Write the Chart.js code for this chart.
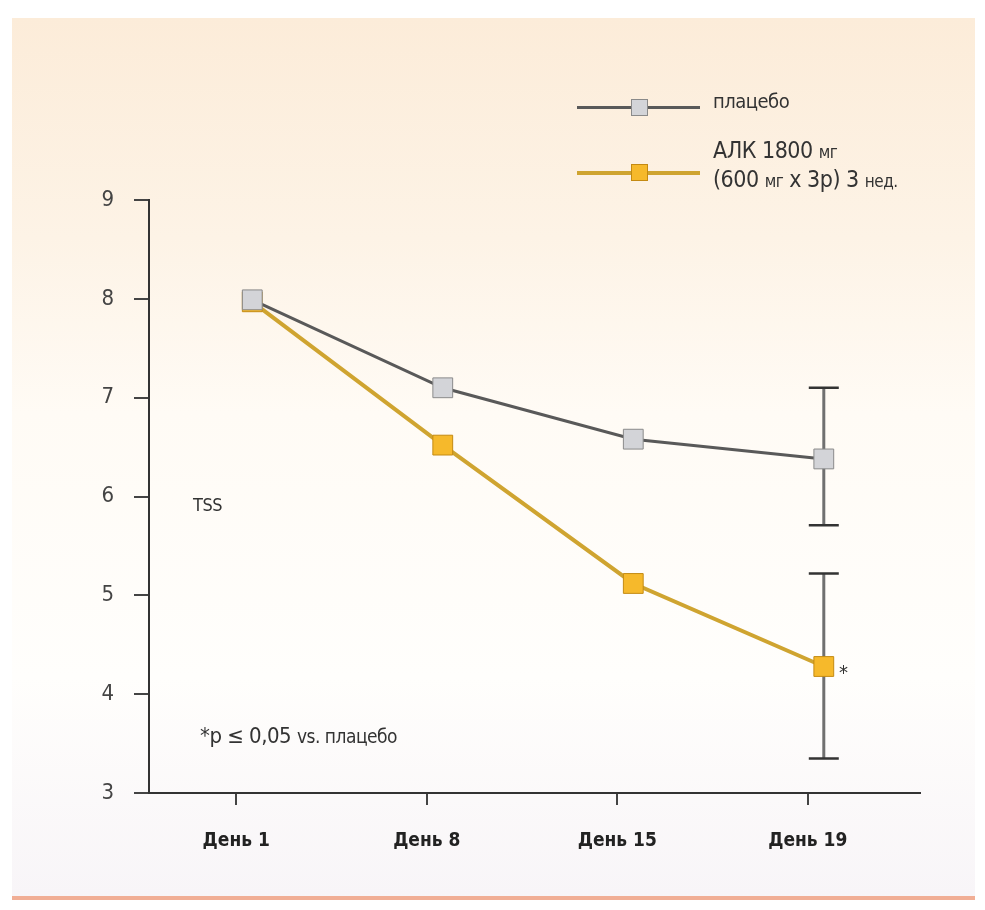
<!DOCTYPE html>
<html>
<head>
<meta charset="utf-8">
<script src="https://cdn.jsdelivr.net/npm/chart.js@4"></script>
<style>
    body { margin: 0; background: #fff; width: 985px; height: 910px; overflow: hidden; position: relative; font-family: 'DejaVu Sans Condensed', 'Liberation Sans Narrow', sans-serif; color: #333; }
    #panel { position: absolute; left: 12px; top: 18px; width: 963px; height: 878px;
        background: linear-gradient(#fcecd9 0%, #fdf3e6 25%, #fffbf5 45%, #fffefc 75%, #f8f5f8 100%);
        border-bottom: 4px solid #f1ae95; }
    #wrap { position: absolute; left: 0; top: 0; width: 985px; height: 910px; }
    .note { position: absolute; white-space: nowrap; line-height: 1; letter-spacing: -0.5px; }
    .leg { position: absolute; left: 577px; width: 123px; height: 3px; }
    .leg span { position: absolute; left: 54px; top: -7px; width: 17px; height: 17px; box-sizing: border-box; }
    small { font-size: 17px; }
</style>
</head>
<body>
<div id="panel"></div>
<div id="wrap"><canvas id="chart" width="985" height="910"></canvas></div>

<div class="leg" style="top:106px;background:#595959"><span style="background:#d3d4d8;border:1px solid #8a8a8a"></span></div>
<div class="leg" style="top:171px;height:4px;background:#cfa430"><span style="background:#f6b92b;border:1px solid #c48a12;top:-7px"></span></div>
<div class="note" style="left:713px;top:91px;font-size:20px">плацебо</div>
<div class="note" style="left:713px;top:139px;font-size:23px">АЛК 1800 <small>мг</small></div>
<div class="note" style="left:713px;top:168px;font-size:23px">(600 <small>мг</small> x 3р) 3 <small>нед.</small></div>
<div class="note" style="left:193px;top:496px;font-size:18px">TSS</div>
<div class="note" style="left:200px;top:725px;font-size:22px">*p ≤ 0,05 <span style="font-size:19px">vs. плацебо</span></div>
<div class="note" style="left:839px;top:662px;font-size:20px">*</div>

<script>
// Categories and values
const days = ['День 1', 'День 8', 'День 15', 'День 19'];
const placebo = [7.99, 7.1, 6.58, 6.38];
const alk = [7.97, 6.52, 5.12, 4.28];
// error bars [low, high], only on the last day
const placeboErr = [null, null, null, [5.71, 7.1]];
const alkErr = [null, null, null, [3.35, 5.22]];
const yTicks = [3, 4, 5, 6, 7, 8, 9];

const FONT = "'DejaVu Sans Condensed', 'Liberation Sans Narrow', sans-serif";

const errorBars = {
    id: 'errorBars',
    beforeDatasetsDraw(chart) {
        const ctx = chart.ctx;
        const y = chart.scales.y;
        [placeboErr, alkErr].forEach((errs, di) => {
            const meta = chart.getDatasetMeta(di);
            errs.forEach((e, i) => {
                if (!e) return;
                const px = meta.data[i].x;
                const lo = y.getPixelForValue(e[0]);
                const hi = y.getPixelForValue(e[1]);
                ctx.save();
                ctx.strokeStyle = '#707070';
                ctx.lineWidth = 3;
                ctx.beginPath();
                ctx.moveTo(px, lo); ctx.lineTo(px, hi);
                ctx.stroke();
                ctx.strokeStyle = '#333';
                ctx.lineWidth = 2.5;
                ctx.beginPath();
                ctx.moveTo(px - 15, lo); ctx.lineTo(px + 15, lo);
                ctx.moveTo(px - 15, hi); ctx.lineTo(px + 15, hi);
                ctx.stroke();
                ctx.restore();
            });
        });
    }
};

const xy = arr => arr.map((v, i) => ({ x: i, y: v }));

new Chart(document.getElementById('chart'), {
    type: 'line',
    data: {
        datasets: [
            {
                label: 'плацебо',
                data: xy(placebo),
                borderColor: '#595959',
                borderWidth: 3,
                pointStyle: 'rect',
                pointRadius: 14,
                pointBackgroundColor: '#d3d4d8',
                pointBorderColor: '#8a8a8a',
                pointBorderWidth: 1,
                xAxisID: 'x'
            },
            {
                label: 'АЛК 1800 мг (600 мг x 3р) 3 нед.',
                data: xy(alk),
                borderColor: '#cfa430',
                borderWidth: 4,
                pointStyle: 'rect',
                pointRadius: 14,
                pointBackgroundColor: '#f6b92b',
                pointBorderColor: '#c48a12',
                pointBorderWidth: 1,
                xAxisID: 'x'
            }
        ]
    },
    options: {
        responsive: false,
        animation: false,
        layout: { autoPadding: false, padding: { left: 89, top: 200, right: 65, bottom: 57 } },
        plugins: { legend: { display: false }, tooltip: { enabled: false } },
        scales: {
            x: { type: 'linear', min: -0.542, max: 3.505, display: false },
            xt: {
                type: 'linear', position: 'bottom',
                min: -0.458, max: 3.589,
                afterBuildTicks: s => { s.ticks = days.map((d, i) => ({ value: i })); },
                afterFit: s => { s.height = 60; },
                border: { color: '#333', width: 2 },
                grid: { drawOnChartArea: false, color: '#444', lineWidth: 2, tickLength: 12 },
                ticks: {
                    padding: 25,
                    color: '#222',
                    font: { family: FONT, size: 19, weight: 'bold' },
                    callback: v => days[v]
                }
            },
            y: {
                min: 3, max: 9,
                afterBuildTicks: s => { s.ticks = yTicks.map(v => ({ value: v })); },
                afterFit: s => { s.width = 60; },
                border: { color: '#333', width: 2 },
                grid: { drawOnChartArea: false, color: '#444', lineWidth: 2, tickLength: 15 },
                ticks: { padding: 20, color: '#444', font: { family: FONT, size: 22 } }
            }
        }
    },
    plugins: [errorBars]
});
</script>
</body>
</html>
